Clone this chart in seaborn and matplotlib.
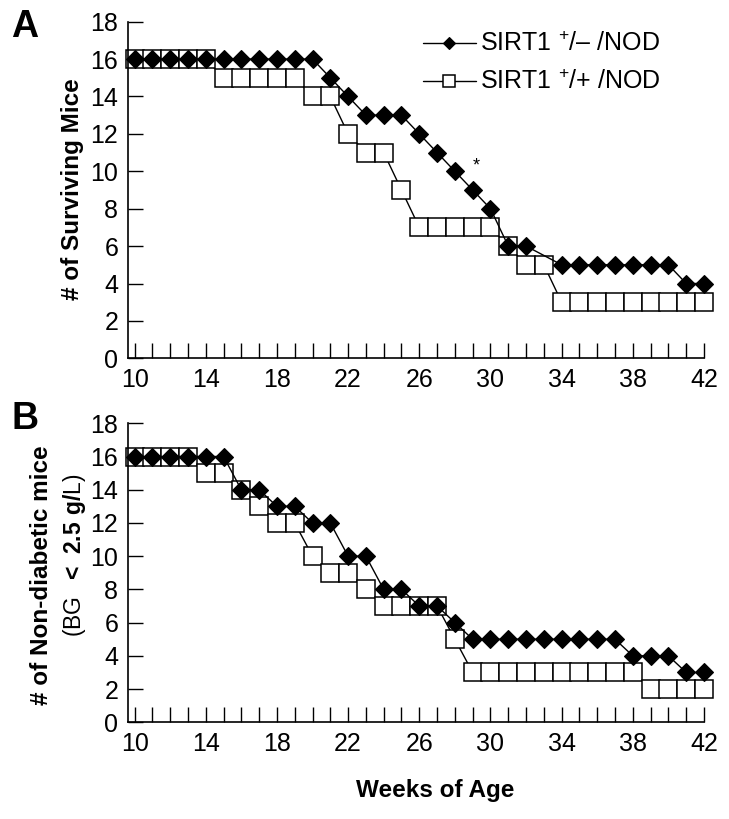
import matplotlib
matplotlib.use('Agg')
import matplotlib.pyplot as plt
from matplotlib.ticker import MultipleLocator
import seaborn as sns

# Panel A - surviving mice per week
surv_het_weeks = [10, 11, 12, 13, 14, 15, 16, 17, 18, 19, 20, 21, 22, 23, 24, 25, 26,
                  27, 28, 29, 30, 31, 32, 34, 35, 36, 37, 38, 39, 40, 41, 42]
surv_het = [16, 16, 16, 16, 16, 16, 16, 16, 16, 16, 16, 15, 14, 13, 13, 13, 12,
            11, 10, 9, 8, 6, 6, 5, 5, 5, 5, 5, 5, 5, 4, 4]
surv_wt_weeks = list(range(10, 43))
surv_wt = [16, 16, 16, 16, 16, 15, 15, 15, 15, 15, 14, 14, 12, 11, 11, 9, 7,
           7, 7, 7, 7, 6, 5, 5, 3, 3, 3, 3, 3, 3, 3, 3, 3]

# Panel B - non-diabetic mice per week
nd_weeks = list(range(10, 43))
nd_het = [16, 16, 16, 16, 16, 16, 14, 14, 13, 13, 12, 12, 10, 10, 8, 8, 7,
          7, 6, 5, 5, 5, 5, 5, 5, 5, 5, 5, 4, 4, 4, 3, 3]
nd_wt = [16, 16, 16, 16, 15, 15, 14, 13, 12, 12, 10, 9, 9, 8, 7, 7, 7,
         7, 5, 3, 3, 3, 3, 3, 3, 3, 3, 3, 3, 2, 2, 2, 2]

label_het = r'SIRT1 $^{+}$/– /NOD'
label_wt = r'SIRT1 $^{+}$/+ /NOD'

sns.set_style('ticks')
plt.rcParams['font.family'] = ['Liberation Sans', 'DejaVu Sans']
plt.rcParams['mathtext.fontset'] = 'custom'
plt.rcParams['mathtext.rm'] = 'Liberation Sans'
plt.rcParams['mathtext.bf'] = 'Liberation Sans:bold'
plt.rcParams['text.color'] = 'black'
plt.rcParams['axes.edgecolor'] = 'black'
plt.rcParams['xtick.color'] = 'black'
plt.rcParams['ytick.color'] = 'black'

fig = plt.figure(figsize=(7.29, 8.19), dpi=100)
ax_a = fig.add_axes([128 / 729, 1 - 358.3 / 819, (704 - 128) / 729, (358.3 - 21.7) / 819])
ax_b = fig.add_axes([128 / 729, 1 - 722.3 / 819, (704 - 128) / 729, (722.3 - 423.3) / 819])


def draw_pair(ax, wt_x, wt_y, het_x, het_y):
    sns.lineplot(x=wt_x, y=wt_y, ax=ax, color='black', linewidth=1.0,
                 marker='s', markersize=12.5, markerfacecolor='white',
                 markeredgecolor='black', markeredgewidth=1.1, label=label_wt,
                 zorder=2, clip_on=False)
    sns.lineplot(x=het_x, y=het_y, ax=ax, color='black', linewidth=1.0,
                 marker='D', markersize=9, markerfacecolor='black',
                 markeredgecolor='black', markeredgewidth=0.8, label=label_het,
                 zorder=3, clip_on=False)
    ax.set_xlim(9.63, 42)
    ax.set_ylim(0, 18)
    ax.xaxis.set_major_locator(MultipleLocator(4))
    ax.xaxis.set_minor_locator(MultipleLocator(1))
    ax.yaxis.set_major_locator(MultipleLocator(2))
    ax.set_xticks(range(10, 43, 4))
    ax.tick_params(which='both', direction='in', length=10.5, width=1.0, pad=7,
                   labelsize=18)
    for side in ['left', 'bottom']:
        ax.spines[side].set_linewidth(1.2)
    sns.despine(ax=ax)
    ax.set_xlabel('')
    ax.set_ylabel('')


draw_pair(ax_a, surv_wt_weeks, surv_wt, surv_het_weeks, surv_het)
draw_pair(ax_b, nd_weeks, nd_wt, nd_weeks, nd_het)

ax_b.get_legend().remove()
handles, labels = ax_a.get_legend_handles_labels()
ax_a.legend([handles[1], handles[0]], [labels[1], labels[0]], loc='upper left',
            bbox_to_anchor=(423 / 729, 1 - 32 / 819), bbox_transform=fig.transFigure,
            frameon=False, fontsize=18, markerscale=0.7, handlelength=2.1,
            handletextpad=0.2, labelspacing=0.55, borderpad=0, borderaxespad=0)

ax_a.text(29.2, 10.3, '*', fontsize=13, ha='center', va='center')

# panel letters and axis titles
fig.text(11 / 729, 1 - 9 / 819, 'A', fontsize=27, weight='bold', ha='left', va='top')
fig.text(11 / 729, 1 - 401 / 819, 'B', fontsize=27, weight='bold', ha='left', va='top')
fig.text(72 / 729, 1 - 189 / 819, '# of Surviving Mice', fontsize=17.5, weight='bold',
         rotation=90, ha='center', va='center')
fig.text(42 / 729, 1 - 575 / 819, '# of Non-diabetic mice', fontsize=17.5, weight='bold',
         rotation=90, ha='center', va='center')
fig.text(75 / 729, 1 - 555 / 819, r'(BG  $\mathbf{<\ 2.5\ g/}$L)', fontsize=16.5,
         rotation=90, ha='center', va='center')
fig.text(435 / 729, 1 - 790 / 819, 'Weeks of Age', fontsize=17.5, weight='bold',
         ha='center', va='center')

fig.savefig('out.png', dpi=100, facecolor='white')
